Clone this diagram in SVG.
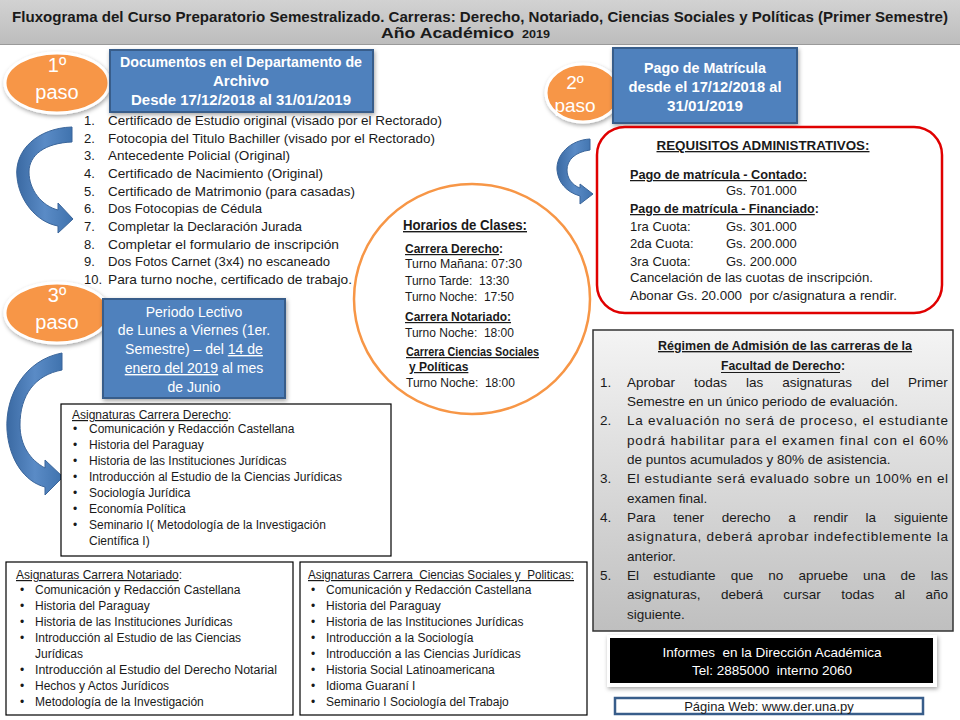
<svg xmlns="http://www.w3.org/2000/svg" width="960" height="720" viewBox="0 0 960 720">
<defs>
<linearGradient id="gTitle" x1="0" y1="0" x2="0" y2="1"><stop offset="0" stop-color="#d2d2d2"/><stop offset="1" stop-color="#bdbdbd"/></linearGradient>
<linearGradient id="gReg" x1="0" y1="0" x2="0" y2="1"><stop offset="0" stop-color="#f4f4f4"/><stop offset="1" stop-color="#bfbfbf"/></linearGradient>
<linearGradient id="gArrow" x1="0" y1="0" x2="1" y2="0"><stop offset="0" stop-color="#3b6aa3"/><stop offset="0.5" stop-color="#5a8bc6"/><stop offset="1" stop-color="#3f72ad"/></linearGradient>
<filter id="sh" x="-20%" y="-20%" width="140%" height="150%"><feDropShadow dx="1" dy="2" stdDeviation="2" flood-color="#000" flood-opacity="0.35"/></filter>
</defs>
<style>
.t{font-family:"Liberation Sans",Arial,sans-serif;fill:#1a1a1a}
.b{font-weight:bold}
.u{text-decoration:underline}
.w{fill:#fff}
.step{fill:#f79646;stroke:#fff;stroke-width:3}
.blue{fill:#4f81bd;stroke:#385d8a;stroke-width:2}
.arrow{fill:url(#gArrow);stroke:#3a659a;stroke-width:1}
.box{fill:#fff;stroke:#000;stroke-width:1.2}
.s12{font-size:12px}
.s13{font-size:13px}
.s135{font-size:13.5px}
.s14{font-size:14px}
</style>

<g id="title">
<rect x="0" y="0" width="960" height="44" fill="url(#gTitle)"/>
<line x1="0" y1="44.5" x2="960" y2="44.5" stroke="#9a9a9a" stroke-width="1"/>
<text class="t b" x="12" y="22" font-size="15" textLength="936" lengthAdjust="spacingAndGlyphs">Fluxograma del Curso Preparatorio Semestralizado. Carreras: Derecho, Notariado, Ciencias Sociales y Políticas (Primer Semestre)</text>
<text class="t b" x="381" y="38" font-size="15" textLength="133" lengthAdjust="spacingAndGlyphs">Año Académico</text>
<text class="t b" x="522" y="38" font-size="10" textLength="28" lengthAdjust="spacingAndGlyphs">2019</text>
</g>

<g id="paso1">
<ellipse class="step" cx="57" cy="83" rx="52" ry="30" filter="url(#sh)"/>
<text class="t w" x="57" y="72" font-size="20" text-anchor="middle">1º</text>
<text class="t w" x="57" y="99" font-size="20" text-anchor="middle">paso</text>
</g>

<g id="documentos">
<rect class="blue" x="110" y="50" width="263" height="62" filter="url(#sh)"/>
<text class="t b w s14" x="241" y="67" text-anchor="middle" textLength="242" lengthAdjust="spacingAndGlyphs">Documentos en el Departamento de</text>
<text class="t b w s14" x="241" y="86" text-anchor="middle" textLength="56" lengthAdjust="spacingAndGlyphs">Archivo</text>
<text class="t b w s14" x="241" y="105" text-anchor="middle" textLength="220" lengthAdjust="spacingAndGlyphs">Desde 17/12/2018 al 31/01/2019</text>
</g>

<g id="lista-documentos" class="t s13">
<text x="84" y="125">1.</text><text x="108" y="125" textLength="334" lengthAdjust="spacingAndGlyphs">Certificado de Estudio original (visado por el Rectorado)</text>
<text x="84" y="143">2.</text><text x="108" y="143" textLength="327" lengthAdjust="spacingAndGlyphs">Fotocopia del Titulo Bachiller (visado por el Rectorado)</text>
<text x="84" y="160">3.</text><text x="108" y="160" textLength="182" lengthAdjust="spacingAndGlyphs">Antecedente Policial (Original)</text>
<text x="84" y="178">4.</text><text x="108" y="178" textLength="215" lengthAdjust="spacingAndGlyphs">Certificado de Nacimiento (Original)</text>
<text x="84" y="196">5.</text><text x="108" y="196" textLength="247" lengthAdjust="spacingAndGlyphs">Certificado de Matrimonio (para casadas)</text>
<text x="84" y="213">6.</text><text x="108" y="213" textLength="154" lengthAdjust="spacingAndGlyphs">Dos Fotocopias de Cédula</text>
<text x="84" y="231">7.</text><text x="108" y="231" textLength="194" lengthAdjust="spacingAndGlyphs">Completar la Declaración Jurada</text>
<text x="84" y="249">8.</text><text x="108" y="249" textLength="231" lengthAdjust="spacingAndGlyphs">Completar el formulario de inscripción</text>
<text x="84" y="266">9.</text><text x="108" y="266" textLength="222" lengthAdjust="spacingAndGlyphs">Dos Fotos Carnet (3x4) no escaneado</text>
<text x="84" y="284">10.</text><text x="108" y="284" textLength="244" lengthAdjust="spacingAndGlyphs">Para turno noche, certificado de trabajo.</text>
</g>

<g id="paso2">
<ellipse class="step" cx="583" cy="93" rx="37" ry="29" filter="url(#sh)"/>
<text class="t w" x="575" y="89" font-size="19" text-anchor="middle">2º</text>
<text class="t w" x="575" y="112" font-size="19" text-anchor="middle">paso</text>
</g>

<g id="pago-matricula">
<rect class="blue" x="613" y="48" width="184" height="75" filter="url(#sh)"/>
<text class="t b w s14" x="705" y="73" text-anchor="middle" textLength="122" lengthAdjust="spacingAndGlyphs">Pago de Matrícula</text>
<text class="t b w s14" x="705" y="92" text-anchor="middle" textLength="153" lengthAdjust="spacingAndGlyphs">desde el 17/12/2018 al</text>
<text class="t b w s14" x="705" y="111" text-anchor="middle" textLength="76" lengthAdjust="spacingAndGlyphs">31/01/2019</text>
</g>

<g id="requisitos">
<rect x="597" y="127" width="345" height="186" rx="28" fill="#fff" stroke="#e00000" stroke-width="2.5"/>
<text class="t b u" x="763" y="150" font-size="13" text-anchor="middle" textLength="213" lengthAdjust="spacingAndGlyphs">REQUISITOS ADMINISTRATIVOS:</text>
<g class="t s13">
<text class="b u" x="630" y="179" font-size="12.5" textLength="177" lengthAdjust="spacingAndGlyphs">Pago de matrícula - Contado:</text>
<text x="726" y="195">Gs. 701.000</text>
<text class="b" x="630" y="213" font-size="12.5"><tspan class="u">Pago de matrícula - Financiado</tspan>:</text>
<text x="630" y="231">1ra Cuota:</text><text x="726" y="231">Gs. 301.000</text>
<text x="630" y="248">2da Cuota:</text><text x="726" y="248">Gs. 200.000</text>
<text x="630" y="266">3ra Cuota:</text><text x="726" y="266">Gs. 200.000</text>
<text x="630" y="282" textLength="243" lengthAdjust="spacingAndGlyphs">Cancelación de las cuotas de inscripción.</text>
<text x="630" y="300" textLength="267" lengthAdjust="spacingAndGlyphs" xml:space="preserve">Abonar Gs. 20.000  por c/asignatura a rendir.</text>
</g>
</g>

<g id="horarios">
<ellipse cx="472" cy="299" rx="118" ry="115" fill="#fff" stroke="#f79646" stroke-width="2.5"/>
<text class="t b u" x="403" y="230" font-size="14" textLength="124" lengthAdjust="spacingAndGlyphs">Horarios de Clases:</text>
<g class="t" font-size="12">
<text class="b" x="405" y="253"><tspan class="u">Carrera Derecho</tspan>:</text>
<text x="405" y="268" textLength="117" lengthAdjust="spacingAndGlyphs">Turno Mañana: 07:30</text>
<text x="405" y="285" xml:space="preserve">Turno Tarde:  13:30</text>
<text x="405" y="301" xml:space="preserve">Turno Noche:  17:50</text>
<text class="b u" x="405" y="321">Carrera Notariado:</text>
<text x="405" y="337" xml:space="preserve">Turno Noche:  18:00</text>
<text class="b u" x="406" y="356" textLength="133" lengthAdjust="spacingAndGlyphs">Carrera Ciencias Sociales</text>
<text class="b u" x="409" y="371">y Políticas</text>
<text x="406" y="387" xml:space="preserve">Turno Noche:  18:00</text>
</g>
</g>

<g id="paso3">
<ellipse class="step" cx="57" cy="313" rx="52" ry="30" filter="url(#sh)"/>
<text class="t w" x="57" y="302" font-size="20" text-anchor="middle">3º</text>
<text class="t w" x="57" y="329" font-size="20" text-anchor="middle">paso</text>
</g>

<g id="periodo-lectivo">
<rect class="blue" x="103" y="299" width="182" height="99" filter="url(#sh)"/>
<g class="t w s14" text-anchor="middle">
<text x="194" y="317">Periodo Lectivo</text>
<text x="194" y="335">de Lunes a Viernes (1er.</text>
<text x="194" y="354">Semestre) – del <tspan class="u">14 de</tspan></text>
<text x="194" y="373"><tspan class="u">enero del 2019</tspan> al mes</text>
<text x="194" y="392">de Junio</text>
</g>
</g>

<g id="connectors">
<path class="arrow" d="M72,127 C38,128 14,150 17,177 C19,200 36,222 58,226 L58,233 L73,219 L58,203 L58,210 C42,206 29,190 29,172 C29,155 45,143 72,142 Z"/>
<path class="arrow" d="M590,139 C570,140 556,155 557,170 C558,182 566,192 580,196 L580,204 L593,194 L580,184 L580,188 C572,185 567,178 567,170 C567,160 575,152 590,150 Z"/>
<path class="arrow" d="M62,353 C25,360 5,395 7,430 C9,460 25,482 45,487 L45,495 L63,477 L45,460 L45,468 C30,460 20,445 20,425 C20,395 35,375 62,370 Z"/>
</g>

<g id="asignaturas-derecho">
<rect class="box" x="61" y="404" width="330" height="152"/>
<g class="t s12">
<text x="72" y="419"><tspan class="u">Asignaturas Carrera Derecho</tspan>:</text>
<text x="73" y="433">•</text><text x="89" y="433">Comunicación y Redacción Castellana</text>
<text x="73" y="449">•</text><text x="89" y="449">Historia del Paraguay</text>
<text x="73" y="465">•</text><text x="89" y="465">Historia de las Instituciones Jurídicas</text>
<text x="73" y="481">•</text><text x="89" y="481" textLength="253" lengthAdjust="spacingAndGlyphs">Introducción al Estudio de la Ciencias Jurídicas</text>
<text x="73" y="497">•</text><text x="89" y="497">Sociología Jurídica</text>
<text x="73" y="513">•</text><text x="89" y="513">Economía Política</text>
<text x="73" y="529">•</text><text x="89" y="529">Seminario I( Metodología de la Investigación</text>
<text x="89" y="545">Científica I)</text>
</g>
</g>

<g id="asignaturas-notariado">
<rect class="box" x="6" y="562" width="287" height="153"/>
<g class="t s12">
<text x="16" y="579"><tspan class="u">Asignaturas Carrera Notariado</tspan>:</text>
<text x="20" y="594">•</text><text x="35" y="594">Comunicación y Redacción Castellana</text>
<text x="20" y="610">•</text><text x="35" y="610">Historia del Paraguay</text>
<text x="20" y="626">•</text><text x="35" y="626">Historia de las Instituciones Jurídicas</text>
<text x="20" y="642">•</text><text x="35" y="642">Introducción al Estudio de las Ciencias</text>
<text x="35" y="658">Jurídicas</text>
<text x="20" y="674">•</text><text x="35" y="674" textLength="242" lengthAdjust="spacingAndGlyphs">Introducción al Estudio del Derecho Notarial</text>
<text x="20" y="690">•</text><text x="35" y="690">Hechos y Actos Jurídicos</text>
<text x="20" y="706">•</text><text x="35" y="706">Metodología de la Investigación</text>
</g>
</g>

<g id="asignaturas-ciencias">
<rect class="box" x="300" y="562" width="287" height="153"/>
<g class="t s12">
<text class="u" x="308" y="579" textLength="266" lengthAdjust="spacingAndGlyphs" xml:space="preserve">Asignaturas Carrera  Ciencias Sociales y  Politicas:</text>
<text x="311" y="594">•</text><text x="326" y="594">Comunicación y Redacción Castellana</text>
<text x="311" y="610">•</text><text x="326" y="610">Historia del Paraguay</text>
<text x="311" y="626">•</text><text x="326" y="626">Historia de las Instituciones Jurídicas</text>
<text x="311" y="642">•</text><text x="326" y="642">Introducción a la Sociología</text>
<text x="311" y="658">•</text><text x="326" y="658">Introducción a las Ciencias Jurídicas</text>
<text x="311" y="674">•</text><text x="326" y="674">Historia Social Latinoamericana</text>
<text x="311" y="690">•</text><text x="326" y="690">Idioma Guaraní I</text>
<text x="311" y="706">•</text><text x="326" y="706">Seminario I Sociología del Trabajo</text>
</g>
</g>

<g id="regimen">
<rect x="593" y="330" width="360" height="301" fill="url(#gReg)" stroke="#333" stroke-width="1.5"/>
<text class="t b u" x="658" y="350" font-size="13.5" textLength="254" lengthAdjust="spacingAndGlyphs">Régimen de Admisión de las carreras de la</text>
<text class="t b" x="721" y="370" font-size="13.5" textLength="124" lengthAdjust="spacingAndGlyphs">Facultad de Derecho:</text>
<line x1="721" y1="372.5" x2="840" y2="372.5" stroke="#1a1a1a" stroke-width="1.2"/>
<g class="t s135">
<text x="600" y="386.5">1.</text>
<text y="386.5"><tspan x="627">Aprobar</tspan><tspan x="694">todas</tspan><tspan x="746">las</tspan><tspan x="782.3">asignaturas</tspan><tspan x="871.1">del</tspan><tspan x="908.1">Primer</tspan></text>
<text x="627" y="405.8">Semestre en un único periodo de evaluación.</text>
<text x="600" y="425.2">2.</text>
<text x="627" y="425.2" textLength="321" lengthAdjust="spacing">La evaluación no será de proceso, el estudiante</text>
<text x="627" y="444.5" textLength="321" lengthAdjust="spacing">podrá habilitar para el examen final con el 60%</text>
<text x="627" y="463.8">de puntos acumulados y 80% de asistencia.</text>
<text x="600" y="483.2">3.</text>
<text x="627" y="483.2" textLength="321" lengthAdjust="spacing">El estudiante será evaluado sobre un 100% en el</text>
<text x="627" y="502.5">examen final.</text>
<text x="600" y="521.8">4.</text>
<text y="521.8"><tspan x="627">Para</tspan><tspan x="673.2">tener</tspan><tspan x="721.7">derecho</tspan><tspan x="788.2">a</tspan><tspan x="813.4">rendir</tspan><tspan x="865.6">la</tspan><tspan x="893.9">siguiente</tspan></text>
<text x="627" y="541.2" textLength="321" lengthAdjust="spacing">asignatura, deberá aprobar indefectiblemente la</text>
<text x="627" y="560.5">anterior.</text>
<text x="600" y="579.8">5.</text>
<text y="579.8"><tspan x="627">El</tspan><tspan x="653.3">estudiante</tspan><tspan x="730.7">que</tspan><tspan x="768.3">no</tspan><tspan x="798.4">apruebe</tspan><tspan x="863">una</tspan><tspan x="900.6">de</tspan><tspan x="930.7">las</tspan></text>
<text y="599.2"><tspan x="627">asignaturas,</tspan><tspan x="720.9">deberá</tspan><tspan x="783.3">cursar</tspan><tspan x="841.2">todas</tspan><tspan x="894.6">al</tspan><tspan x="925.5">año</tspan></text>
<text x="627" y="618.5">siguiente.</text>
</g>
</g>

<g id="informes">
<rect x="607" y="635" width="330" height="52" fill="#fff" filter="url(#sh)"/>
<rect x="610" y="638" width="323" height="45" fill="#000"/>
<text class="t w" x="772" y="657" font-size="13.5" text-anchor="middle" xml:space="preserve">Informes  en la Dirección Académica</text>
<text class="t w" x="772" y="675" font-size="13.5" text-anchor="middle" xml:space="preserve">Tel: 2885000  interno 2060</text>
</g>

<g id="pagina-web">
<rect x="615" y="698" width="308" height="16" fill="#fff" stroke="#385d8a" stroke-width="2.5"/>
<text class="t" x="769" y="711" font-size="13" text-anchor="middle">Página Web: www.der.una.py</text>
</g>
</svg>
